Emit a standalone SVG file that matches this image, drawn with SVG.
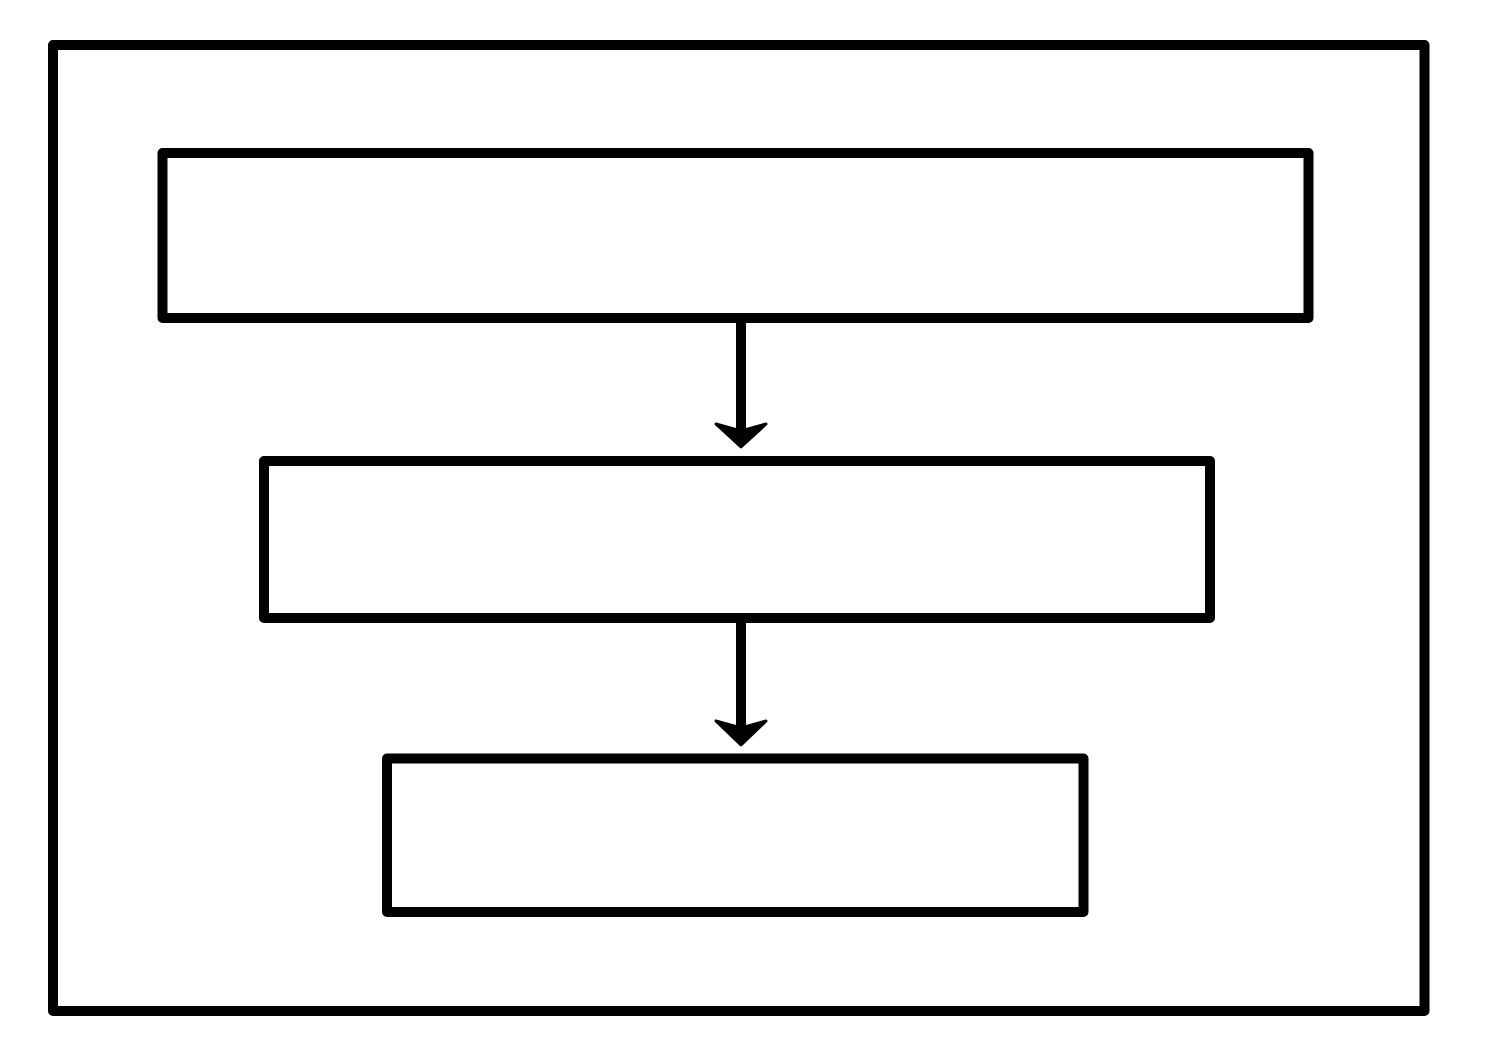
<svg xmlns="http://www.w3.org/2000/svg" width="1489" height="1056" viewBox="0 0 1489 1056">
<style>
.box{fill:none;stroke:#000;stroke-width:10;stroke-linejoin:round}
.conn{stroke:#000;stroke-width:10;fill:none}
.head{fill:#000;stroke:#000;stroke-width:3;stroke-linejoin:round}
</style>
<rect width="1489" height="1056" fill="#fff"/>
<g id="frame"><rect class="box" x="53" y="45" width="1371.5" height="966"/></g>
<g id="node1"><rect class="box" x="162.5" y="153" width="1146" height="165"/></g>
<g id="node2"><rect class="box" x="264" y="461" width="946" height="157"/></g>
<g id="node3"><rect class="box" x="387" y="758.5" width="696.5" height="153.5"/></g>
<g id="connectors">
<line class="conn" x1="741" y1="322" x2="741" y2="432"/>
<path class="head" d="M716,424 L741,447 L766,424 L741,431 Z"/>
<line class="conn" x1="741" y1="622" x2="741" y2="728"/>
<path class="head" d="M716,721 L741,745 L766,721 L741,728 Z"/>
</g>
</svg>
